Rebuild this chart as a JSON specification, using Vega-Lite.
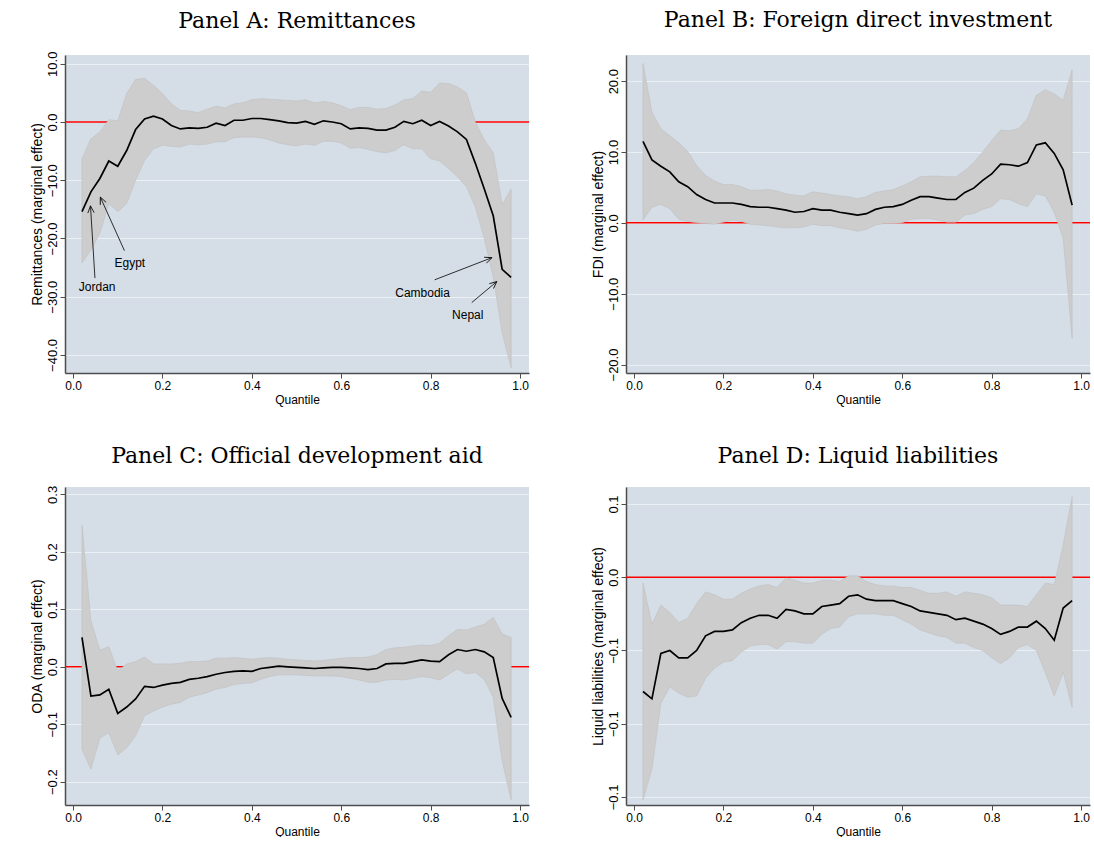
{
"$schema": "https://vega.github.io/schema/vega-lite/v6.json",
"background": "white",
"padding": {"left": 30, "top": 9, "right": 0, "bottom": 0},
"columns": 2,
"spacing": {"row": 40, "column": 61},
"config": {
  "view": {"fill": "#d5dee6", "stroke": null},
  "axis": {"domainColor": "#4d4d4d", "domainWidth": 1.5, "tickColor": "#4d4d4d", "tickSize": 5, "tickWidth": 1, "labelFont": "Liberation Sans", "titleFont": "Liberation Sans", "labelColor": "black", "titleColor": "black", "titleFontWeight": "normal", "labelFlush": false, "labelOverlap": false, "labelBound": false, "format": ".1f"},
  "axisX": {"grid": false, "labelFontSize": 12, "titleFontSize": 12, "labelPadding": 2, "titlePadding": 3},
  "axisY": {"grid": true, "gridColor": "#eaf0f3", "gridWidth": 1, "labelAngle": 270, "labelAlign": "center", "labelBaseline": "alphabetic", "labelFontSize": 13, "titleFontSize": 14, "labelPadding": 4, "titlePadding": 2},
  "title": {"font": "DejaVu Serif", "fontSize": 22, "fontWeight": "normal", "color": "black", "offset": 16, "anchor": "middle"}
},
"datasets": {
  "A": [
    {"q":0.02,"b":-15.4,"lo":-24.2,"hi":-6.3},{"q":0.04,"b":-12.0,"lo":-22.0,"hi":-2.9},{"q":0.06,"b":-9.7,"lo":-19.1,"hi":-1.7},{"q":0.08,"b":-6.7,"lo":-14.0,"hi":0.4},{"q":0.10,"b":-7.6,"lo":-15.4,"hi":0.2},{"q":0.12,"b":-4.9,"lo":-14.0,"hi":4.9},{"q":0.14,"b":-1.3,"lo":-10.0,"hi":7.3},{"q":0.16,"b":0.5,"lo":-6.6,"hi":7.5},{"q":0.18,"b":1.0,"lo":-4.6,"hi":6.3},{"q":0.20,"b":0.5,"lo":-4.0,"hi":4.9},
    {"q":0.22,"b":-0.6,"lo":-4.2,"hi":3.1},{"q":0.24,"b":-1.2,"lo":-4.3,"hi":2.0},{"q":0.26,"b":-1.0,"lo":-3.8,"hi":1.9},{"q":0.28,"b":-1.1,"lo":-3.9,"hi":1.6},{"q":0.30,"b":-0.9,"lo":-3.8,"hi":2.2},{"q":0.32,"b":-0.2,"lo":-3.4,"hi":2.7},{"q":0.34,"b":-0.6,"lo":-3.4,"hi":2.4},{"q":0.36,"b":0.3,"lo":-2.7,"hi":3.1},{"q":0.38,"b":0.3,"lo":-2.6,"hi":3.3},{"q":0.40,"b":0.6,"lo":-2.6,"hi":3.8},
    {"q":0.42,"b":0.6,"lo":-2.7,"hi":4.0},{"q":0.44,"b":0.4,"lo":-3.1,"hi":3.9},{"q":0.46,"b":0.2,"lo":-3.6,"hi":3.8},{"q":0.48,"b":-0.1,"lo":-3.9,"hi":3.7},{"q":0.50,"b":-0.2,"lo":-4.1,"hi":3.6},{"q":0.52,"b":0.1,"lo":-3.8,"hi":3.8},{"q":0.54,"b":-0.4,"lo":-4.0,"hi":3.3},{"q":0.56,"b":0.2,"lo":-3.3,"hi":3.5},{"q":0.58,"b":0.0,"lo":-3.3,"hi":3.3},{"q":0.60,"b":-0.3,"lo":-3.6,"hi":2.8},
    {"q":0.62,"b":-1.2,"lo":-4.5,"hi":2.1},{"q":0.64,"b":-1.0,"lo":-4.4,"hi":2.5},{"q":0.66,"b":-1.1,"lo":-4.7,"hi":2.5},{"q":0.68,"b":-1.4,"lo":-5.1,"hi":2.2},{"q":0.70,"b":-1.4,"lo":-5.3,"hi":2.3},{"q":0.72,"b":-0.9,"lo":-4.9,"hi":2.9},{"q":0.74,"b":0.1,"lo":-3.9,"hi":3.8},{"q":0.76,"b":-0.3,"lo":-4.6,"hi":4.0},{"q":0.78,"b":0.3,"lo":-4.6,"hi":5.3},{"q":0.80,"b":-0.6,"lo":-6.3,"hi":5.1},
    {"q":0.82,"b":0.1,"lo":-6.7,"hi":6.7},{"q":0.84,"b":-0.7,"lo":-8.0,"hi":6.6},{"q":0.86,"b":-1.7,"lo":-9.4,"hi":6.0},{"q":0.88,"b":-3.0,"lo":-11.1,"hi":5.0},{"q":0.90,"b":-7.1,"lo":-14.6,"hi":0.0},{"q":0.92,"b":-11.5,"lo":-20.0,"hi":-3.1},{"q":0.94,"b":-16.1,"lo":-26.6,"hi":-5.3},{"q":0.96,"b":-25.3,"lo":-36.2,"hi":-14.2},{"q":0.98,"b":-26.7,"lo":-42.2,"hi":-11.5}
  ],
  "B": [
    {"q":0.02,"b":11.5,"lo":0.4,"hi":22.5},{"q":0.04,"b":8.9,"lo":2.2,"hi":15.6},{"q":0.06,"b":8.0,"lo":2.6,"hi":13.3},{"q":0.08,"b":7.2,"lo":2.0,"hi":12.3},{"q":0.10,"b":5.8,"lo":0.5,"hi":11.3},{"q":0.12,"b":5.1,"lo":0.2,"hi":10.1},{"q":0.14,"b":4.0,"lo":0.0,"hi":8.1},{"q":0.16,"b":3.3,"lo":-0.1,"hi":6.7},{"q":0.18,"b":2.8,"lo":-0.2,"hi":5.9},{"q":0.20,"b":2.8,"lo":0.1,"hi":5.4},
    {"q":0.22,"b":2.8,"lo":0.4,"hi":5.4},{"q":0.24,"b":2.6,"lo":0.2,"hi":5.1},{"q":0.26,"b":2.3,"lo":-0.2,"hi":4.6},{"q":0.28,"b":2.2,"lo":-0.3,"hi":4.6},{"q":0.30,"b":2.2,"lo":-0.4,"hi":4.7},{"q":0.32,"b":2.0,"lo":-0.6,"hi":4.5},{"q":0.34,"b":1.8,"lo":-0.7,"hi":4.1},{"q":0.36,"b":1.5,"lo":-0.7,"hi":3.9},{"q":0.38,"b":1.6,"lo":-0.6,"hi":3.8},{"q":0.40,"b":2.0,"lo":-0.2,"hi":4.4},
    {"q":0.42,"b":1.8,"lo":-0.4,"hi":4.2},{"q":0.44,"b":1.8,"lo":-0.4,"hi":4.0},{"q":0.46,"b":1.5,"lo":-0.7,"hi":3.8},{"q":0.48,"b":1.3,"lo":-0.9,"hi":3.7},{"q":0.50,"b":1.1,"lo":-1.2,"hi":3.4},{"q":0.52,"b":1.3,"lo":-0.9,"hi":3.7},{"q":0.54,"b":1.9,"lo":-0.3,"hi":4.3},{"q":0.56,"b":2.2,"lo":-0.1,"hi":4.5},{"q":0.58,"b":2.3,"lo":-0.1,"hi":4.7},{"q":0.60,"b":2.6,"lo":0.0,"hi":5.2},
    {"q":0.62,"b":3.2,"lo":0.5,"hi":5.8},{"q":0.64,"b":3.7,"lo":0.6,"hi":6.5},{"q":0.66,"b":3.7,"lo":0.6,"hi":6.6},{"q":0.68,"b":3.5,"lo":0.4,"hi":6.6},{"q":0.70,"b":3.3,"lo":0.1,"hi":6.5},{"q":0.72,"b":3.3,"lo":0.1,"hi":6.5},{"q":0.74,"b":4.3,"lo":1.1,"hi":7.4},{"q":0.76,"b":4.9,"lo":1.3,"hi":8.5},{"q":0.78,"b":6.0,"lo":1.9,"hi":10.0},{"q":0.80,"b":6.9,"lo":2.3,"hi":11.6},
    {"q":0.82,"b":8.3,"lo":3.4,"hi":13.1},{"q":0.84,"b":8.2,"lo":3.3,"hi":13.0},{"q":0.86,"b":8.0,"lo":2.7,"hi":13.3},{"q":0.88,"b":8.5,"lo":2.3,"hi":14.7},{"q":0.90,"b":11.0,"lo":4.1,"hi":18.0},{"q":0.92,"b":11.3,"lo":3.8,"hi":18.8},{"q":0.94,"b":9.8,"lo":1.5,"hi":18.2},{"q":0.96,"b":7.5,"lo":-2.2,"hi":17.3},{"q":0.98,"b":2.5,"lo":-16.3,"hi":21.6}
  ],
  "C": [
    {"q":0.02,"b":0.051,"lo":-0.144,"hi":0.246},{"q":0.04,"b":-0.051,"lo":-0.178,"hi":0.080},{"q":0.06,"b":-0.049,"lo":-0.124,"hi":0.029},{"q":0.08,"b":-0.039,"lo":-0.115,"hi":0.035},{"q":0.10,"b":-0.081,"lo":-0.153,"hi":-0.007},{"q":0.12,"b":-0.070,"lo":-0.141,"hi":0.005},{"q":0.14,"b":-0.056,"lo":-0.120,"hi":0.009},{"q":0.16,"b":-0.034,"lo":-0.085,"hi":0.017},{"q":0.18,"b":-0.036,"lo":-0.077,"hi":0.005},{"q":0.20,"b":-0.032,"lo":-0.070,"hi":0.005},
    {"q":0.22,"b":-0.029,"lo":-0.065,"hi":0.005},{"q":0.24,"b":-0.027,"lo":-0.062,"hi":0.006},{"q":0.26,"b":-0.022,"lo":-0.053,"hi":0.009},{"q":0.28,"b":-0.020,"lo":-0.049,"hi":0.009},{"q":0.30,"b":-0.017,"lo":-0.045,"hi":0.010},{"q":0.32,"b":-0.013,"lo":-0.039,"hi":0.015},{"q":0.34,"b":-0.010,"lo":-0.036,"hi":0.015},{"q":0.36,"b":-0.008,"lo":-0.031,"hi":0.016},{"q":0.38,"b":-0.007,"lo":-0.029,"hi":0.015},{"q":0.40,"b":-0.008,"lo":-0.028,"hi":0.013},
    {"q":0.42,"b":-0.003,"lo":-0.022,"hi":0.015},{"q":0.44,"b":-0.001,"lo":-0.017,"hi":0.016},{"q":0.46,"b":0.001,"lo":-0.014,"hi":0.015},{"q":0.48,"b":0.000,"lo":-0.014,"hi":0.013},{"q":0.50,"b":-0.001,"lo":-0.014,"hi":0.012},{"q":0.52,"b":-0.002,"lo":-0.015,"hi":0.011},{"q":0.54,"b":-0.003,"lo":-0.016,"hi":0.010},{"q":0.56,"b":-0.002,"lo":-0.016,"hi":0.011},{"q":0.58,"b":-0.001,"lo":-0.016,"hi":0.013},{"q":0.60,"b":-0.001,"lo":-0.017,"hi":0.015},
    {"q":0.62,"b":-0.002,"lo":-0.020,"hi":0.016},{"q":0.64,"b":-0.003,"lo":-0.023,"hi":0.016},{"q":0.66,"b":-0.005,"lo":-0.027,"hi":0.017},{"q":0.68,"b":-0.003,"lo":-0.027,"hi":0.021},{"q":0.70,"b":0.005,"lo":-0.023,"hi":0.030},{"q":0.72,"b":0.006,"lo":-0.022,"hi":0.033},{"q":0.74,"b":0.006,"lo":-0.023,"hi":0.034},{"q":0.76,"b":0.009,"lo":-0.020,"hi":0.036},{"q":0.78,"b":0.012,"lo":-0.017,"hi":0.038},{"q":0.80,"b":0.010,"lo":-0.019,"hi":0.037},
    {"q":0.82,"b":0.009,"lo":-0.023,"hi":0.041},{"q":0.84,"b":0.021,"lo":-0.013,"hi":0.054},{"q":0.86,"b":0.030,"lo":-0.004,"hi":0.065},{"q":0.88,"b":0.027,"lo":-0.012,"hi":0.064},{"q":0.90,"b":0.030,"lo":-0.010,"hi":0.069},{"q":0.92,"b":0.026,"lo":-0.022,"hi":0.074},{"q":0.94,"b":0.016,"lo":-0.053,"hi":0.086},{"q":0.96,"b":-0.055,"lo":-0.164,"hi":0.057},{"q":0.98,"b":-0.088,"lo":-0.231,"hi":0.051}
  ],
  "D": [
    {"q":0.02,"b":-0.078,"lo":-0.152,"hi":-0.004},{"q":0.04,"b":-0.083,"lo":-0.131,"hi":-0.032},{"q":0.06,"b":-0.052,"lo":-0.086,"hi":-0.019},{"q":0.08,"b":-0.050,"lo":-0.075,"hi":-0.024},{"q":0.10,"b":-0.055,"lo":-0.079,"hi":-0.031},{"q":0.12,"b":-0.055,"lo":-0.082,"hi":-0.028},{"q":0.14,"b":-0.050,"lo":-0.081,"hi":-0.018},{"q":0.16,"b":-0.040,"lo":-0.069,"hi":-0.010},{"q":0.18,"b":-0.037,"lo":-0.062,"hi":-0.012},{"q":0.20,"b":-0.037,"lo":-0.058,"hi":-0.015},
    {"q":0.22,"b":-0.036,"lo":-0.057,"hi":-0.015},{"q":0.24,"b":-0.031,"lo":-0.051,"hi":-0.011},{"q":0.26,"b":-0.028,"lo":-0.047,"hi":-0.008},{"q":0.28,"b":-0.026,"lo":-0.046,"hi":-0.006},{"q":0.30,"b":-0.026,"lo":-0.046,"hi":-0.005},{"q":0.32,"b":-0.028,"lo":-0.049,"hi":-0.007},{"q":0.34,"b":-0.022,"lo":-0.044,"hi":-0.0005},{"q":0.36,"b":-0.023,"lo":-0.044,"hi":-0.002},{"q":0.38,"b":-0.025,"lo":-0.045,"hi":-0.004},{"q":0.40,"b":-0.025,"lo":-0.045,"hi":-0.004},
    {"q":0.42,"b":-0.020,"lo":-0.039,"hi":-0.002},{"q":0.44,"b":-0.019,"lo":-0.035,"hi":-0.002},{"q":0.46,"b":-0.018,"lo":-0.034,"hi":-0.003},{"q":0.48,"b":-0.013,"lo":-0.027,"hi":0.001},{"q":0.50,"b":-0.012,"lo":-0.025,"hi":0.001},{"q":0.52,"b":-0.015,"lo":-0.025,"hi":-0.003},{"q":0.54,"b":-0.016,"lo":-0.025,"hi":-0.005},{"q":0.56,"b":-0.016,"lo":-0.026,"hi":-0.006},{"q":0.58,"b":-0.016,"lo":-0.026,"hi":-0.006},{"q":0.60,"b":-0.018,"lo":-0.029,"hi":-0.007},
    {"q":0.62,"b":-0.020,"lo":-0.032,"hi":-0.007},{"q":0.64,"b":-0.023,"lo":-0.036,"hi":-0.009},{"q":0.66,"b":-0.024,"lo":-0.038,"hi":-0.011},{"q":0.68,"b":-0.025,"lo":-0.040,"hi":-0.011},{"q":0.70,"b":-0.026,"lo":-0.041,"hi":-0.010},{"q":0.72,"b":-0.029,"lo":-0.045,"hi":-0.013},{"q":0.74,"b":-0.028,"lo":-0.045,"hi":-0.010},{"q":0.76,"b":-0.030,"lo":-0.048,"hi":-0.011},{"q":0.78,"b":-0.032,"lo":-0.050,"hi":-0.012},{"q":0.80,"b":-0.035,"lo":-0.055,"hi":-0.014},
    {"q":0.82,"b":-0.039,"lo":-0.059,"hi":-0.019},{"q":0.84,"b":-0.037,"lo":-0.055,"hi":-0.019},{"q":0.86,"b":-0.034,"lo":-0.048,"hi":-0.019},{"q":0.88,"b":-0.034,"lo":-0.046,"hi":-0.020},{"q":0.90,"b":-0.030,"lo":-0.050,"hi":-0.012},{"q":0.92,"b":-0.035,"lo":-0.065,"hi":-0.004},{"q":0.94,"b":-0.043,"lo":-0.081,"hi":-0.005},{"q":0.96,"b":-0.021,"lo":-0.065,"hi":0.022},{"q":0.98,"b":-0.016,"lo":-0.089,"hi":0.055}
  ],
  "annA": [
    {"label":"Jordan","tq":0.054,"tv":-28.3,"q1":0.049,"v1":-26.8,"q2":0.039,"v2":-14.4},
    {"label":"Egypt","tq":0.127,"tv":-24.2,"q1":0.115,"v1":-22.1,"q2":0.061,"v2":-12.9},
    {"label":"Cambodia","tq":0.782,"tv":-29.3,"q1":0.809,"v1":-27.1,"q2":0.937,"v2":-23.3},
    {"label":"Nepal","tq":0.883,"tv":-33.1,"q1":0.892,"v1":-31.0,"q2":0.948,"v2":-27.4}
  ]
},
"concat": [
  {
    "width": 464, "height": 318,
    "title": {"text": "Panel A: Remittances", "offset": 18},
    "layer": [
      {"data": {"values": [{}]}, "mark": {"type": "rule", "color": "#ff0000", "strokeWidth": 1.5}, "encoding": {"y": {"datum": 0, "type": "quantitative", "scale": {"domain": [-43.1, 11.5], "nice": false, "zero": false}, "axis": {"values": [-40,-30,-20,-10,0,10], "title": "Remittances (marginal effect)"}}}},
      {"data": {"name": "A"}, "mark": {"type": "area", "color": "#cdcdcd", "opacity": 1, "stroke": "#c0c0c0", "strokeWidth": 0.6},
       "encoding": {"x": {"field": "q", "type": "quantitative", "scale": {"domain": [-0.018, 1.02], "nice": false, "zero": false}, "axis": {"values": [0,0.2,0.4,0.6,0.8,1], "title": "Quantile"}},
                    "y": {"field": "lo", "type": "quantitative", "axis": {"values": [-40,-30,-20,-10,0,10], "title": "Remittances (marginal effect)"}}, "y2": {"field": "hi"}}},
      {"data": {"name": "A"}, "mark": {"type": "line", "color": "black", "strokeWidth": 1.7},
       "encoding": {"x": {"field": "q", "type": "quantitative", "axis": {"values": [0,0.2,0.4,0.6,0.8,1], "title": "Quantile"}}, "y": {"field": "b", "type": "quantitative", "axis": {"values": [-40,-30,-20,-10,0,10], "title": "Remittances (marginal effect)"}}}},
      {"data": {"name": "annA"}, "mark": {"type": "rule", "color": "black", "strokeWidth": 0.8},
       "encoding": {"x": {"field": "q1", "type": "quantitative", "axis": {"values": [0,0.2,0.4,0.6,0.8,1], "title": "Quantile"}}, "y": {"field": "v1", "type": "quantitative", "axis": {"values": [-40,-30,-20,-10,0,10], "title": "Remittances (marginal effect)"}}, "x2": {"field": "q2"}, "y2": {"field": "v2"}}},
      {"data": {"name": "annA"}, "mark": {"type": "text", "font": "Liberation Sans", "fontSize": 12, "color": "black", "align": "center", "baseline": "middle"},
       "encoding": {"x": {"field": "tq", "type": "quantitative", "axis": {"values": [0,0.2,0.4,0.6,0.8,1], "title": "Quantile"}}, "y": {"field": "tv", "type": "quantitative", "axis": {"values": [-40,-30,-20,-10,0,10], "title": "Remittances (marginal effect)"}}, "text": {"field": "label"}}},
      {"data": {"name": "annA"}, "transform": [{"filter": "datum.label === 'Jordan'"}], "mark": {"type": "point", "shape": "M-0.45,1L0,0L0.45,1", "filled": false, "color": "black", "strokeWidth": 0.8, "size": 200, "opacity": 1, "angle": -4},
       "encoding": {"x": {"field": "q2", "type": "quantitative", "axis": {"values": [0,0.2,0.4,0.6,0.8,1], "title": "Quantile"}}, "y": {"field": "v2", "type": "quantitative", "axis": {"values": [-40,-30,-20,-10,0,10], "title": "Remittances (marginal effect)"}}}},
      {"data": {"name": "annA"}, "transform": [{"filter": "datum.label === 'Egypt'"}], "mark": {"type": "point", "shape": "M-0.45,1L0,0L0.45,1", "filled": false, "color": "black", "strokeWidth": 0.8, "size": 200, "opacity": 1, "angle": -24},
       "encoding": {"x": {"field": "q2", "type": "quantitative", "axis": {"values": [0,0.2,0.4,0.6,0.8,1], "title": "Quantile"}}, "y": {"field": "v2", "type": "quantitative", "axis": {"values": [-40,-30,-20,-10,0,10], "title": "Remittances (marginal effect)"}}}},
      {"data": {"name": "annA"}, "transform": [{"filter": "datum.label === 'Cambodia'"}], "mark": {"type": "point", "shape": "M-0.45,1L0,0L0.45,1", "filled": false, "color": "black", "strokeWidth": 0.8, "size": 200, "opacity": 1, "angle": 69},
       "encoding": {"x": {"field": "q2", "type": "quantitative", "axis": {"values": [0,0.2,0.4,0.6,0.8,1], "title": "Quantile"}}, "y": {"field": "v2", "type": "quantitative", "axis": {"values": [-40,-30,-20,-10,0,10], "title": "Remittances (marginal effect)"}}}},
      {"data": {"name": "annA"}, "transform": [{"filter": "datum.label === 'Nepal'"}], "mark": {"type": "point", "shape": "M-0.45,1L0,0L0.45,1", "filled": false, "color": "black", "strokeWidth": 0.8, "size": 200, "opacity": 1, "angle": 50},
       "encoding": {"x": {"field": "q2", "type": "quantitative", "axis": {"values": [0,0.2,0.4,0.6,0.8,1], "title": "Quantile"}}, "y": {"field": "v2", "type": "quantitative", "axis": {"values": [-40,-30,-20,-10,0,10], "title": "Remittances (marginal effect)"}}}}
    ]
  },
  {
    "width": 464, "height": 318,
    "title": {"text": "Panel B: Foreign direct investment", "offset": 23},
    "layer": [
      {"data": {"values": [{}]}, "mark": {"type": "rule", "color": "#ff0000", "strokeWidth": 1.5}, "encoding": {"y": {"datum": 0, "type": "quantitative", "scale": {"domain": [-21.2, 23.7], "nice": false, "zero": false}, "axis": {"values": [-20,-10,0,10,20], "title": "FDI (marginal effect)"}}}},
      {"data": {"name": "B"}, "mark": {"type": "area", "color": "#cdcdcd", "opacity": 1, "stroke": "#c0c0c0", "strokeWidth": 0.6},
       "encoding": {"x": {"field": "q", "type": "quantitative", "scale": {"domain": [-0.018, 1.02], "nice": false, "zero": false}, "axis": {"values": [0,0.2,0.4,0.6,0.8,1], "title": "Quantile"}},
                    "y": {"field": "lo", "type": "quantitative", "axis": {"values": [-20,-10,0,10,20], "title": "FDI (marginal effect)"}}, "y2": {"field": "hi"}}},
      {"data": {"name": "B"}, "mark": {"type": "line", "color": "black", "strokeWidth": 1.7},
       "encoding": {"x": {"field": "q", "type": "quantitative", "axis": {"values": [0,0.2,0.4,0.6,0.8,1], "title": "Quantile"}}, "y": {"field": "b", "type": "quantitative", "axis": {"values": [-20,-10,0,10,20], "title": "FDI (marginal effect)"}}}}
    ]
  },
  {
    "width": 464, "height": 318,
    "title": {"text": "Panel C: Official development aid", "offset": 17},
    "layer": [
      {"data": {"values": [{}]}, "mark": {"type": "rule", "color": "#ff0000", "strokeWidth": 1.5}, "encoding": {"y": {"datum": 0, "type": "quantitative", "scale": {"domain": [-0.2405, 0.3128], "nice": false, "zero": false}, "axis": {"values": [-0.2,-0.1,0,0.1,0.2,0.3], "title": "ODA (marginal effect)"}}}},
      {"data": {"name": "C"}, "mark": {"type": "area", "color": "#cdcdcd", "opacity": 1, "stroke": "#c0c0c0", "strokeWidth": 0.6},
       "encoding": {"x": {"field": "q", "type": "quantitative", "scale": {"domain": [-0.018, 1.02], "nice": false, "zero": false}, "axis": {"values": [0,0.2,0.4,0.6,0.8,1], "title": "Quantile"}},
                    "y": {"field": "lo", "type": "quantitative", "axis": {"values": [-0.2,-0.1,0,0.1,0.2,0.3], "title": "ODA (marginal effect)"}}, "y2": {"field": "hi"}}},
      {"data": {"name": "C"}, "mark": {"type": "line", "color": "black", "strokeWidth": 1.7},
       "encoding": {"x": {"field": "q", "type": "quantitative", "axis": {"values": [0,0.2,0.4,0.6,0.8,1], "title": "Quantile"}}, "y": {"field": "b", "type": "quantitative", "axis": {"values": [-0.2,-0.1,0,0.1,0.2,0.3], "title": "ODA (marginal effect)"}}}}
    ]
  },
  {
    "width": 464, "height": 318,
    "title": {"text": "Panel D: Liquid liabilities", "offset": 19},
    "layer": [
      {"data": {"values": [{}]}, "mark": {"type": "rule", "color": "#ff0000", "strokeWidth": 1.5}, "encoding": {"y": {"datum": 0, "type": "quantitative", "scale": {"domain": [-0.1555, 0.0616], "nice": false, "zero": false}, "axis": {"values": [-0.15,-0.1,-0.05,0,0.05], "title": "Liquid liabilities (marginal effect)"}}}},
      {"data": {"name": "D"}, "mark": {"type": "area", "color": "#cdcdcd", "opacity": 1, "stroke": "#c0c0c0", "strokeWidth": 0.6},
       "encoding": {"x": {"field": "q", "type": "quantitative", "scale": {"domain": [-0.018, 1.02], "nice": false, "zero": false}, "axis": {"values": [0,0.2,0.4,0.6,0.8,1], "title": "Quantile"}},
                    "y": {"field": "lo", "type": "quantitative", "axis": {"values": [-0.15,-0.1,-0.05,0,0.05], "title": "Liquid liabilities (marginal effect)"}}, "y2": {"field": "hi"}}},
      {"data": {"name": "D"}, "mark": {"type": "line", "color": "black", "strokeWidth": 1.7},
       "encoding": {"x": {"field": "q", "type": "quantitative", "axis": {"values": [0,0.2,0.4,0.6,0.8,1], "title": "Quantile"}}, "y": {"field": "b", "type": "quantitative", "axis": {"values": [-0.15,-0.1,-0.05,0,0.05], "title": "Liquid liabilities (marginal effect)"}}}}
    ]
  }
]
}
